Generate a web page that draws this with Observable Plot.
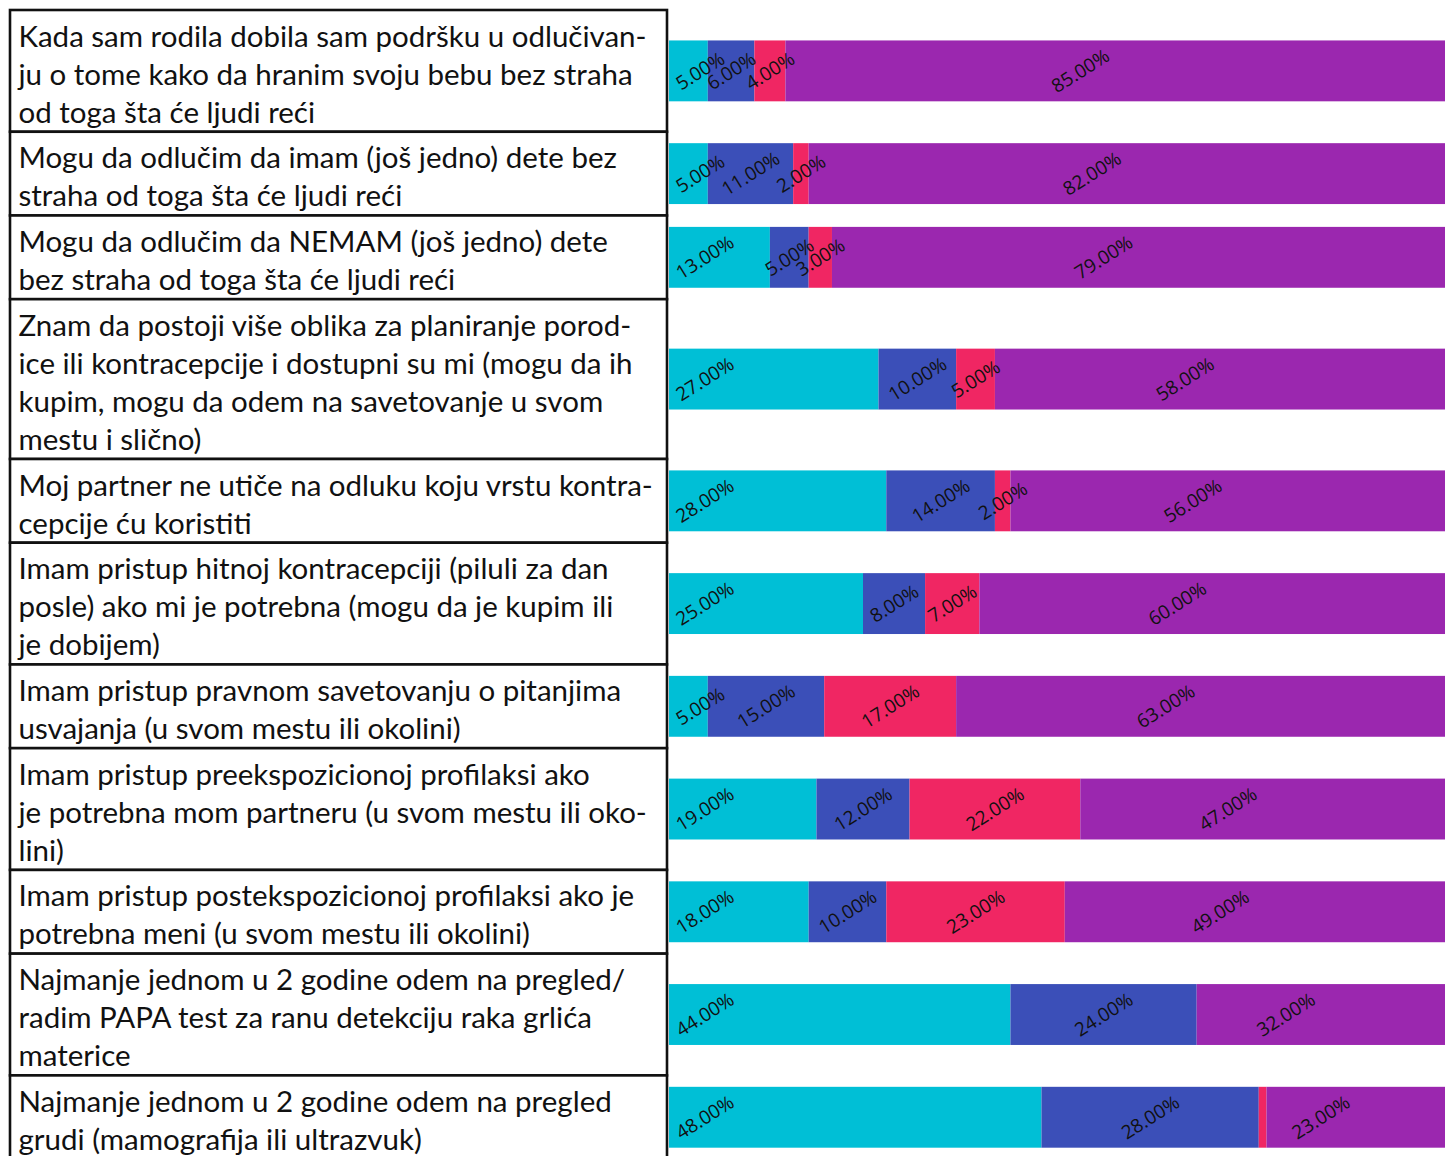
<!DOCTYPE html>
<html>
<head>
<meta charset="utf-8">
<script src="https://cdn.jsdelivr.net/npm/d3@7"></script>
<script src="https://cdn.jsdelivr.net/npm/@observablehq/plot@0.6"></script>
<style>
  html, body { margin: 0; padding: 0; background: #fff; }
  #chart { display: flex; width: 1452px; height: 1156px; overflow: hidden; }
  #chart svg { flex: none; }
</style>
</head>
<body>
<div id="chart"></div>
<script>
// Statements (line breaks and hyphenation as typeset in the table)
const statements = [
  "Kada sam rodila dobila sam podršku u odlučivan-\nju o tome kako da hranim svoju bebu bez straha\nod toga šta će ljudi reći",
  "Mogu da odlučim da imam (još jedno) dete bez\nstraha od toga šta će ljudi reći",
  "Mogu da odlučim da NEMAM (još jedno) dete\nbez straha od toga šta će ljudi reći",
  "Znam da postoji više oblika za planiranje porod-\nice ili kontracepcije i dostupni su mi (mogu da ih\nkupim, mogu da odem na savetovanje u svom\nmestu i slično)",
  "Moj partner ne utiče na odluku koju vrstu kontra-\ncepcije ću koristiti",
  "Imam pristup hitnoj kontracepciji (piluli za dan\nposle) ako mi je potrebna (mogu da je kupim ili\nje dobijem)",
  "Imam pristup pravnom savetovanju o pitanjima\nusvajanja (u svom mestu ili okolini)",
  "Imam pristup preekspozicionoj profilaksi ako\nje potrebna mom partneru (u svom mestu ili oko-\nlini)",
  "Imam pristup postekspozicionoj profilaksi ako je\npotrebna meni (u svom mestu ili okolini)",
  "Najmanje jednom u 2 godine odem na pregled/\nradim PAPA test za ranu detekciju raka grlića\nmaterice",
  "Najmanje jednom u 2 godine odem na pregled\ngrudi (mamografija ili ultrazvuk)"
];

// Answer shares (%) per statement, one array per answer category
const series1 = [5, 5, 13, 27, 28, 25, 5, 19, 18, 44, 48];
const series2 = [6, 11, 5, 10, 14, 8, 15, 12, 10, 24, 28];
const series3 = [4, 2, 3, 5, 2, 7, 17, 22, 23, 0, 1];
const series4 = [85, 82, 79, 58, 56, 60, 63, 47, 49, 32, 23];

const seriesKeys = ["s1", "s2", "s3", "s4"];
const seriesColors = ["#00BFD6", "#3B4FB8", "#F02663", "#9B27AF"];
const seriesValues = [series1, series2, series3, series4];

// Row layout in "line" units: each row is as tall as its text plus padding
const ROW_PAD = 0.2;
const LINE_PX = 38.05;
const TABLE_FONT = 29.5;
let acc = 0;
const rows = statements.map((label, i) => {
  const lines = label.split("\n").length;
  const top = acc;
  const bottom = acc + lines + ROW_PAD;
  acc = bottom;
  return {i, label, lines, top, bottom, mid: (top + bottom) / 2};
});
const totalUnits = acc;
const yScale = {type: "linear", domain: [0, totalUnits], range: [10, 10 + totalUnits * LINE_PX]};

// Stacked segments
const segments = [];
rows.forEach((r, i) => {
  let x = 0;
  seriesKeys.forEach((key, k) => {
    const v = seriesValues[k][i];
    segments.push({row: i, key, value: v, x1: x, x2: x + v, y1: r.mid - 0.8, y2: r.mid + 0.8, mid: r.mid});
    x += v;
  });
});
const fmt = d => d3.format(".2f")(d.value) + "%";
const labelled = segments.filter(d => d.value >= 2);
const labelStyle = {
  y: "mid", text: fmt, rotate: -32, fontSize: 19,
  fontFamily: "'Open Sans', sans-serif", fill: "#111", textAnchor: "middle"
};

const tablePlot = Plot.plot({
  width: 669,
  height: 1156,
  margin: 0,
  axis: null,
  x: {domain: [0, 1], range: [10, 667]},
  y: yScale,
  marks: [
    Plot.rect(rows, {x1: 0, x2: 1, y1: "top", y2: "bottom", fill: "white", stroke: "#111", strokeWidth: 2.6}),
    Plot.text(rows, {
      x: 0, y: "mid", text: "label", textAnchor: "start", dx: 8, dy: 1,
      fontSize: TABLE_FONT, lineHeight: LINE_PX / TABLE_FONT, fontFamily: "Lato, sans-serif", fill: "#111"
    })
  ]
});

const barPlot = Plot.plot({
  width: 783,
  height: 1156,
  margin: 0,
  axis: null,
  x: {domain: [0, 100], range: [0, 776]},
  y: yScale,
  color: {domain: seriesKeys, range: seriesColors},
  marks: [
    Plot.rect(segments, {x1: "x1", x2: "x2", y1: "y1", y2: "y2", fill: "key"}),
    // first category: labels sit near the start of the bar
    Plot.text(labelled.filter(d => d.key === "s1"), {...labelStyle, x: d => Math.min(d.value / 2 + 1.5, 4.6)}),
    Plot.text(labelled.filter(d => d.key === "s2" || d.key === "s3"), {...labelStyle, x: d => (d.x1 + d.x2) / 2}),
    Plot.text(labelled.filter(d => d.key === "s4"), {...labelStyle, x: d => (d.x1 + d.x2) / 2, dx: -35})
  ]
});

const root = document.getElementById("chart");
root.append(tablePlot, barPlot);
</script>
</body>
</html>
